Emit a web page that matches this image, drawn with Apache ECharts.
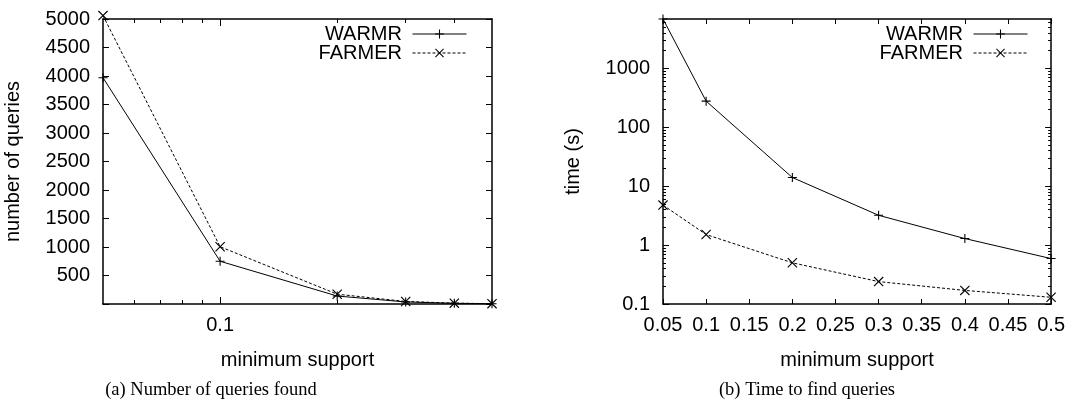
<!DOCTYPE html>
<html>
<head>
<meta charset="utf-8">
<script src="https://cdn.jsdelivr.net/npm/echarts@6/dist/echarts.min.js"></script>
<style>
  html, body { margin: 0; padding: 0; background: #fff; }
  #chart { width: 1068px; height: 414px; }
</style>
</head>
<body>
<div id="chart"></div>
<script>
// ---- data ----
const supports = [0.05, 0.1, 0.2, 0.3, 0.4, 0.5];
const queriesWARMR = [3970, 750, 140, 36, 12, 5];
const queriesFARMER = [5060, 1005, 172, 45, 15, 6];
const timeWARMR = [6860, 277, 14, 3.2, 1.29, 0.59];
const timeFARMER = [4.77, 1.51, 0.50, 0.24, 0.17, 0.13];

// ---- axis ticks / labels ----
const queriesXLabels = [0.1];
const queriesXMinor = [0.06, 0.07, 0.08, 0.09, 0.2, 0.3, 0.4];
const queriesYTicks = [0, 500, 1000, 1500, 2000, 2500, 3000, 3500, 4000, 4500, 5000];
const timeXTicks = [0.05, 0.1, 0.15, 0.2, 0.25, 0.3, 0.35, 0.4, 0.45, 0.5];
const timeYLabels = [0.1, 1, 10, 100, 1000];
const timeYMinor = [0.2, 0.3, 0.4, 0.5, 0.6, 0.7, 0.8, 0.9,
                    2, 3, 4, 5, 6, 7, 8, 9,
                    20, 30, 40, 50, 60, 70, 80, 90,
                    200, 300, 400, 500, 600, 700, 800, 900,
                    2000, 3000, 4000, 5000, 6000];
const timeYMax = 6860;

const FONT = 'Liberation Sans';
const SERIF = 'Liberation Serif';
const black = '#000';

const plusPath = 'path://M0,4.4H10V5.6H0Z M4.4,0H5.6V10H4.4Z';
const crossPath = 'path://M0,0.8L0.8,0L10,9.2L9.2,10Z M9.2,0L10,0.8L0.8,10L0,9.2Z';

const fmt = v => String(+Number(v).toPrecision(6));

const axisLineOn = { show: true, onZero: false, lineStyle: { color: black, width: 1.5 } };
const axisLineOff = { show: false, onZero: false };

function majorTick(len, custom) {
  const t = { show: true, inside: true, length: len, lineStyle: { color: black, width: 1 } };
  if (custom) t.customValues = custom;
  return t;
}
const noLabel = { show: false };
const labelStyle = (margin, extra) => Object.assign({
  show: true, color: black, fontFamily: FONT, fontSize: 20, margin: margin, formatter: fmt
}, extra || {});
const nameStyle = { color: black, fontFamily: FONT, fontSize: 20 };

const chart = echarts.init(document.getElementById('chart'), null, { renderer: 'canvas' });

function lineSeries(name, xIdx, yIdx, xs, ys, dashed) {
  return {
    name: name,
    type: 'line',
    xAxisIndex: xIdx,
    yAxisIndex: yIdx,
    data: xs.map((x, i) => [x, ys[i]]),
    symbol: dashed ? crossPath : plusPath,
    symbolSize: dashed ? 10 : 9,
    showAllSymbol: true,
    clip: false,
    lineStyle: { color: black, width: 1, type: dashed ? [3, 2] : 'solid' },
    itemStyle: { color: black },
    emphasis: { disabled: true },
    z: 5
  };
}

function legend(name, right, top) {
  return {
    data: [name],
    orient: 'vertical',
    right: right,
    top: top,
    padding: 0,
    itemGap: 0,
    itemWidth: 54,
    itemHeight: 11,
    align: 'right',
    selectedMode: false,
    formatter: n => n + ' ',
    lineStyle: { width: 1 },
    textStyle: { color: black, fontFamily: FONT, fontSize: 20, lineHeight: 20 }
  };
}

const option = {
  animation: false,
  backgroundColor: '#fff',
  textStyle: { fontFamily: FONT },
  grid: [
    { left: 103, top: 19, width: 389, height: 285, containLabel: false },
    { left: 663, top: 19, width: 390, height: 285, containLabel: false }
  ],
  legend: [
    legend('WARMR', 601, 24),
    legend('FARMER', 601, 43),
    legend('WARMR', 40, 24),
    legend('FARMER', 40, 43)
  ],
  xAxis: [
    { gridIndex: 0, type: 'log', position: 'bottom', min: 0.05, max: 0.5,
      axisLine: axisLineOn, axisTick: majorTick(7, queriesXLabels),
      axisLabel: labelStyle(11, { customValues: queriesXLabels }), splitLine: { show: false },
      name: 'minimum support', nameLocation: 'middle', nameGap: 46, nameTextStyle: nameStyle },
    { gridIndex: 0, type: 'log', position: 'bottom', min: 0.05, max: 0.5,
      axisLine: axisLineOff, axisTick: majorTick(4, queriesXMinor), axisLabel: noLabel, splitLine: { show: false } },
    { gridIndex: 0, type: 'log', position: 'top', min: 0.05, max: 0.5,
      axisLine: axisLineOn, axisTick: majorTick(7, queriesXLabels), axisLabel: noLabel, splitLine: { show: false } },
    { gridIndex: 0, type: 'log', position: 'top', min: 0.05, max: 0.5,
      axisLine: axisLineOff, axisTick: majorTick(4, queriesXMinor), axisLabel: noLabel, splitLine: { show: false } },
    { gridIndex: 1, type: 'value', position: 'bottom', min: 0.05, max: 0.5, interval: 0.05,
      axisLine: axisLineOn, axisTick: majorTick(5, timeXTicks),
      axisLabel: labelStyle(11, { customValues: timeXTicks }), splitLine: { show: false },
      name: 'minimum support', nameLocation: 'middle', nameGap: 46, nameTextStyle: nameStyle },
    { gridIndex: 1, type: 'value', position: 'top', min: 0.05, max: 0.5, interval: 0.05,
      axisLine: axisLineOn, axisTick: majorTick(5, timeXTicks), axisLabel: noLabel, splitLine: { show: false } }
  ],
  yAxis: [
    { gridIndex: 0, type: 'value', position: 'left', min: 0, max: 5000, interval: 500,
      axisLine: axisLineOn, axisTick: majorTick(6, queriesYTicks),
      axisLabel: labelStyle(13, { customValues: queriesYTicks.filter(v => v > 0) }), splitLine: { show: false },
      name: 'number of queries', nameLocation: 'middle', nameGap: 80,
      nameTextStyle: Object.assign({ padding: [6, 0, 0, 0] }, nameStyle) },
    { gridIndex: 0, type: 'value', position: 'right', min: 0, max: 5000, interval: 500,
      axisLine: axisLineOn, axisTick: majorTick(6, queriesYTicks), axisLabel: noLabel, splitLine: { show: false } },
    { gridIndex: 1, type: 'log', position: 'left', min: 0.1, max: timeYMax,
      axisLine: axisLineOn, axisTick: majorTick(6, timeYLabels),
      axisLabel: labelStyle(13, { customValues: timeYLabels }), splitLine: { show: false },
      name: 'time (s)', nameLocation: 'middle', nameGap: 80,
      nameTextStyle: Object.assign({ padding: [6, 0, 0, 0] }, nameStyle) },
    { gridIndex: 1, type: 'log', position: 'left', min: 0.1, max: timeYMax,
      axisLine: axisLineOff, axisTick: majorTick(3, timeYMinor), axisLabel: noLabel, splitLine: { show: false } },
    { gridIndex: 1, type: 'log', position: 'right', min: 0.1, max: timeYMax,
      axisLine: axisLineOn, axisTick: majorTick(6, timeYLabels), axisLabel: noLabel, splitLine: { show: false } },
    { gridIndex: 1, type: 'log', position: 'right', min: 0.1, max: timeYMax,
      axisLine: axisLineOff, axisTick: majorTick(3, timeYMinor), axisLabel: noLabel, splitLine: { show: false } }
  ],
  series: [
    lineSeries('WARMR', 0, 0, supports, queriesWARMR, false),
    lineSeries('FARMER', 0, 0, supports, queriesFARMER, true),
    lineSeries('WARMR', 4, 2, supports, timeWARMR, false),
    lineSeries('FARMER', 4, 2, supports, timeFARMER, true)
  ],
  graphic: [
    { type: 'text', x: 211, y: 390, style: { text: '(a) Number of queries found', fill: black,
      font: '18.5px "' + SERIF + '"', align: 'center', verticalAlign: 'middle' } },
    { type: 'text', x: 807, y: 390, style: { text: '(b) Time to find queries', fill: black,
      font: '18.5px "' + SERIF + '"', align: 'center', verticalAlign: 'middle' } }
  ]
};

chart.setOption(option);
</script>
</body>
</html>
